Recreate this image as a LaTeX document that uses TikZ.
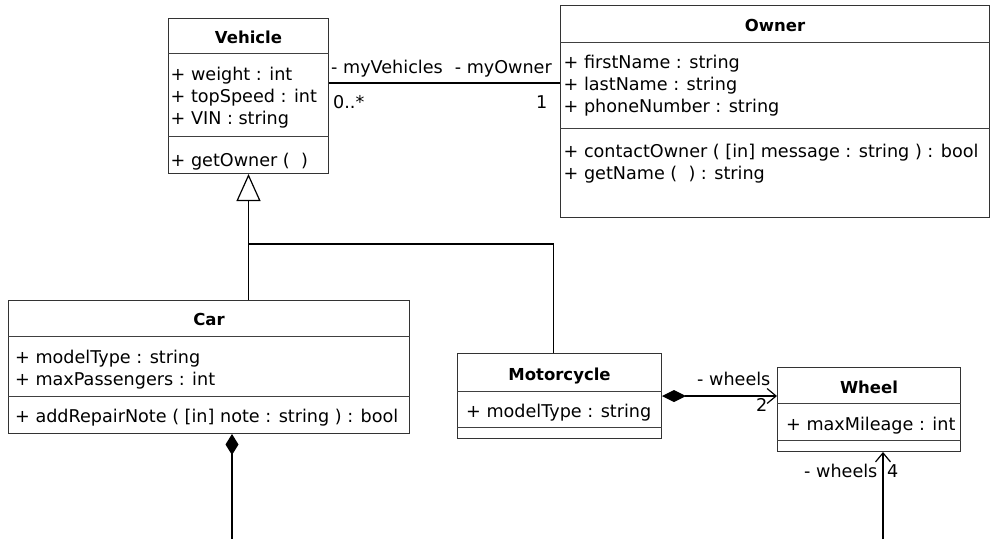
\documentclass[tikz,border=0pt]{standalone}
\usepackage{fontspec}
\setmainfont{DejaVu Sans}
\usetikzlibrary{arrows.meta}
\begin{document}
\begin{tikzpicture}[x=1pt,y=-1pt,
	klasse/.style={rectangle,draw=black!80,line width=1pt,fill=white,inner sep=0pt,anchor=north west},
	titel/.style={inner sep=0pt,anchor=base,font=\fontsize{16.5}{20}\selectfont\bfseries},
	eintrag/.style={inner sep=0pt,anchor=base west,font=\fontsize{17.6}{22}\selectfont},
	trenner/.style={draw=black!75,line width=0.8pt},
	verbindung/.style={draw=black,line width=1.2pt}]
	\useasboundingbox (0,0) rectangle (991,539);
	\def\zeile{22}
	%
	\node[klasse,minimum width=160pt,minimum height=155pt] (vehicle) at (168,18) {};
	\draw[trenner] (vehicle.west |- 0,53) -- (vehicle.east |- 0,53);
	\draw[trenner] (vehicle.west |- 0,136) -- (vehicle.east |- 0,136);
	\node[titel] (vehicleT) at (vehicle.north |- 0,43) {Vehicle};
	\node[eintrag] (vehicleA1) at (170.5,80) {+ weight : int};
	\node[eintrag] (vehicleA2) at (170.5,80+\zeile) {+ topSpeed : int};
	\node[eintrag] (vehicleA3) at (170.5,80+\zeile*2) {+ VIN : string};
	\node[eintrag] (vehicleM1) at (170.5,166) {+ getOwner (~~)};
	%
	\node[klasse,minimum width=429pt,minimum height=212pt] (owner) at (560,5) {};
	\draw[trenner] (owner.west |- 0,42) -- (owner.east |- 0,42);
	\draw[trenner] (owner.west |- 0,128) -- (owner.east |- 0,128);
	\node[titel] (ownerT) at (owner.north |- 0,31) {Owner};
	\node[eintrag] (ownerA1) at (563.5,68) {+ firstName : string};
	\node[eintrag] (ownerA2) at (563.5,68+\zeile) {+ lastName : string};
	\node[eintrag] (ownerA3) at (563.5,68+\zeile*2) {+ phoneNumber : string};
	\node[eintrag] (ownerM1) at (563.5,157) {+ contactOwner ( [in] message : string ) : bool};
	\node[eintrag] (ownerM2) at (563.5,157+\zeile) {+ getName (~~) : string};
	%
	\node[klasse,minimum width=401pt,minimum height=133pt] (car) at (8,300) {};
	\draw[trenner] (car.west |- 0,336) -- (car.east |- 0,336);
	\draw[trenner] (car.west |- 0,396) -- (car.east |- 0,396);
	\node[titel] (carT) at (car.north |- 0,325) {Car};
	\node[eintrag] (carA1) at (15,363) {+ modelType : string};
	\node[eintrag] (carA2) at (15,363+\zeile) {+ maxPassengers : int};
	\node[eintrag] (carM1) at (15,422) {+ addRepairNote ( [in] note : string ) : bool};
	%
	\node[klasse,minimum width=204pt,minimum height=85pt] (motorcycle) at (457,353) {};
	\draw[trenner] (motorcycle.west |- 0,391) -- (motorcycle.east |- 0,391);
	\draw[trenner] (motorcycle.west |- 0,427) -- (motorcycle.east |- 0,427);
	\node[titel] (motorcycleT) at (motorcycle.north |- 0,380) {Motorcycle};
	\node[eintrag] (motorcycleA1) at (466,417) {+ modelType : string};
	%
	\node[klasse,minimum width=183pt,minimum height=84pt] (wheel) at (777,367) {};
	\draw[trenner] (wheel.west |- 0,403) -- (wheel.east |- 0,403);
	\draw[trenner] (wheel.west |- 0,440) -- (wheel.east |- 0,440);
	\node[titel] (wheelT) at (wheel.north |- 0,393) {Wheel};
	\node[eintrag] (wheelA1) at (786,430) {+ maxMileage : int};
	%
	% Assoziation Vehicle - Owner
	\draw[verbindung] (vehicle.east |- 0,83) -- (owner.west |- 0,83);
	\node[eintrag] (myVehicles) at (331,73) {- myVehicles};
	\node[eintrag,anchor=base east] (myOwner) at (552,73) {- myOwner};
	\node[eintrag] (vielfachV) at (333,108) {0..*};
	\node[eintrag] (vielfachO) at (536,108) {1};
	%
	% Vererbung
	\coordinate (knick) at (vehicle.south |- 0,244);
	\draw[verbindung,-{Triangle[open,length=27pt,width=24pt]}] (car.north -| vehicle.south) -- (vehicle.south);
	\draw[verbindung] ([xshift=-6pt]motorcycle.north) |- (knick);
	%
	% Komposition
	\coordinate (carEnde) at (232,539);
	\draw[verbindung,{Diamond[length=21pt,width=13pt]}-] (car.south -| carEnde) -- (carEnde);
	\draw[verbindung,{Diamond[length=24pt,width=12pt]}-{Straight Barb[length=9pt,width=15pt]}] (motorcycle.east |- 0,396) -- (wheel.west |- 0,396);
	\node[eintrag] (wheelsM) at (697,385) {- wheels};
	\node[eintrag] (anzahlM) at (756,411) {2};
	%
	\coordinate (wheelEnde) at (883,539);
	\draw[verbindung,-{Straight Barb[length=9pt,width=15pt]}] (wheelEnde) -- (wheelEnde |- wheel.south);
	\node[eintrag] (wheelsC) at (804,477) {- wheels};
	\node[eintrag] (anzahlC) at (887,477) {4};
	%
\end{tikzpicture}
\end{document}
